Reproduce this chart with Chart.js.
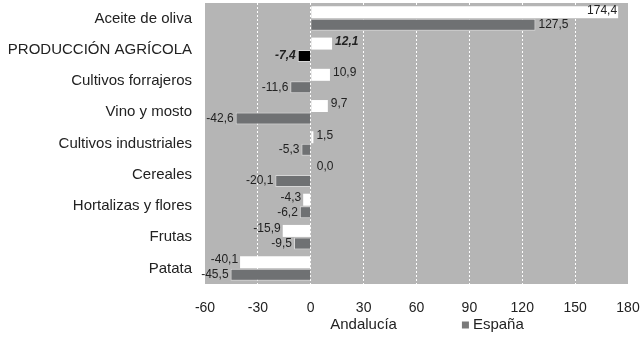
<!DOCTYPE html>
<html>
<head>
<meta charset="utf-8">
<script src="https://cdn.jsdelivr.net/npm/chart.js@4.4.1/dist/chart.umd.min.js"></script>
<style>
  html, body { margin: 0; padding: 0; background: #fff; }
  #wrap { width: 643px; height: 339px; position: relative; }
</style>
</head>
<body>
<div id="wrap"><canvas id="chart"></canvas></div>
<script>
// data
const categories = ['Aceite de oliva', 'PRODUCCIÓN AGRÍCOLA', 'Cultivos forrajeros', 'Vino y mosto',
  'Cultivos industriales', 'Cereales', 'Hortalizas y flores', 'Frutas', 'Patata'];
const andalucia = [174.4, 12.1, 10.9, 9.7, 1.5, 0.0, -4.3, -15.9, -40.1];
const espana = [127.5, -7.4, -11.6, -42.6, -5.3, -20.1, -6.2, -9.5, -45.5];
const seriesNames = ['Andalucía', 'España'];
const xTicks = [-60, -30, 0, 30, 60, 90, 120, 150, 180];

const FONT = "'Liberation Sans', Arial, sans-serif";
const GRAY = '#6f7173';
const highlight = 1; // PRODUCCIÓN AGRÍCOLA row

// gray plot background
const plotBg = {
  id: 'plotBg',
  beforeDraw(chart) {
    const { ctx, chartArea: a } = chart;
    ctx.save();
    ctx.fillStyle = '#b5b5b5';
    ctx.fillRect(a.left, a.top, a.right - a.left, a.bottom - a.top);
    ctx.restore();
  }
};

// value labels at bar ends
const valueLabels = {
  id: 'valueLabels',
  afterDatasetsDraw(chart) {
    const { ctx, chartArea: a } = chart;
    ctx.save();
    ctx.fillStyle = '#222';
    ctx.textBaseline = 'middle';
    chart.data.datasets.forEach((ds, di) => {
      chart.getDatasetMeta(di).data.forEach((bar, i) => {
        const v = ds.data[i];
        const txt = v.toFixed(1).replace('.', ',');
        ctx.font = (i === highlight ? 'italic bold ' : '') + '12px ' + FONT;
        const w = ctx.measureText(txt).width;
        const y = bar.y - (di === 0 ? 2 : 0);
        if (v >= 0) {
          if (bar.x + 3 + w > a.right) {
            ctx.textAlign = 'right';
            ctx.fillText(txt, bar.x - 1, y);
          } else {
            ctx.textAlign = 'left';
            ctx.fillText(txt, bar.x + (v === 0 ? 6 : 3), y);
          }
        } else {
          ctx.textAlign = 'right';
          ctx.fillText(txt, bar.x - 2, y);
        }
      });
    });
    ctx.restore();
  }
};

// legend centred under the plot area
const bottomLegend = {
  id: 'bottomLegend',
  afterDraw(chart) {
    const { ctx, chartArea: a } = chart;
    const colors = ['#ffffff', '#7a7a7a'];
    ctx.save();
    ctx.font = '15px ' + FONT;
    ctx.textBaseline = 'middle';
    ctx.textAlign = 'left';
    const box = 7, gap = 4, spacing = 65;
    const widths = seriesNames.map(n => box + gap + ctx.measureText(n).width);
    const total = widths.reduce((s, w) => s + w, 0) + spacing;
    let x = (a.left + a.right) / 2 - total / 2 + 5;
    const y = 325;
    seriesNames.forEach((n, i) => {
      ctx.fillStyle = colors[i];
      ctx.fillRect(x, y - box / 2, box, box);
      ctx.fillStyle = '#222';
      ctx.fillText(n, x + box + gap, y);
      x += widths[i] + spacing;
    });
    ctx.restore();
  }
};

new Chart(document.getElementById('chart'), {
  type: 'bar',
  data: {
    labels: categories,
    datasets: [
      {
        label: seriesNames[0],
        data: andalucia,
        backgroundColor: '#ffffff',
        borderColor: '#ffffff',
        borderWidth: 0
      },
      {
        label: seriesNames[1],
        data: espana,
        backgroundColor: categories.map((c, i) => i === highlight ? '#000000' : GRAY),
        borderColor: '#d6d6d6',
        borderWidth: 1
      }
    ]
  },
  options: {
    indexAxis: 'y',
    responsive: true,
    maintainAspectRatio: false,
    animation: false,
    categoryPercentage: 0.8,
    barPercentage: 0.96,
    layout: { padding: { top: 3, right: 15, bottom: 0, left: 0 } },
    plugins: {
      legend: { display: false },
      tooltip: { enabled: false }
    },
    scales: {
      x: {
        min: xTicks[0],
        max: xTicks[xTicks.length - 1],
        afterBuildTicks: scale => { scale.ticks = xTicks.map(v => ({ value: v })); },
        afterFit: scale => {
          scale.height = 55;
          scale.paddingLeft = 0;
          scale.paddingRight = 0;
        },
        ticks: { color: '#222', font: { family: FONT, size: 14 }, padding: 16 },
        grid: {
          color: ctx => (ctx.index === 0 || ctx.index === xTicks.length - 1) ? 'rgba(0,0,0,0)' : '#ffffff',
          lineWidth: 1,
          drawTicks: false
        },
        border: { display: true, color: 'rgba(0,0,0,0)', dash: [2, 2] }
      },
      y: {
        afterFit: scale => {
          scale.width = 205;
          scale.paddingTop = 0;
          scale.paddingBottom = 0;
        },
        ticks: { color: '#222', font: { family: FONT, size: 15 }, padding: 13 },
        grid: { display: false, drawTicks: false },
        border: { display: false }
      }
    }
  },
  plugins: [plotBg, valueLabels, bottomLegend]
});
</script>
</body>
</html>
